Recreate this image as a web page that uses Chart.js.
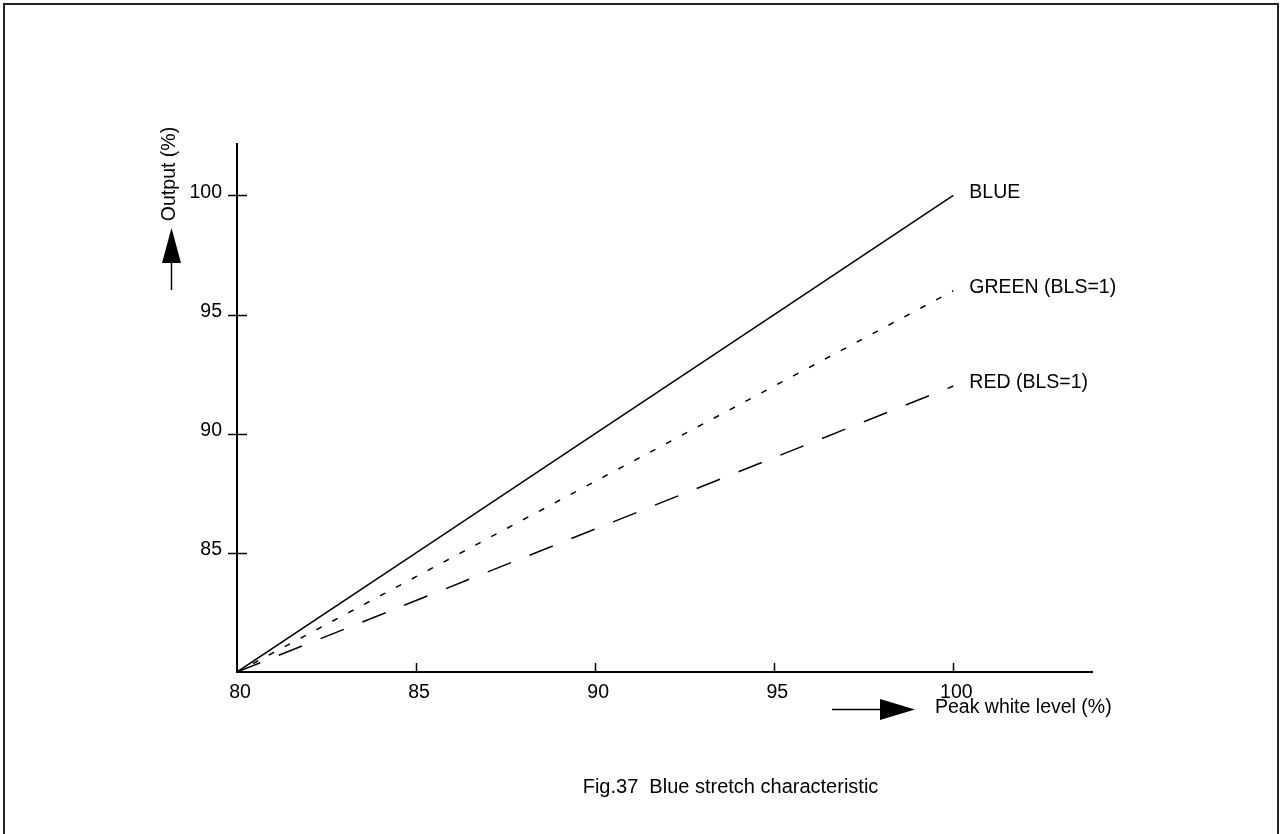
<!DOCTYPE html>
<html>
<head>
<meta charset="utf-8">
<script src="https://cdn.jsdelivr.net/npm/chart.js@4/dist/chart.umd.min.js"></script>
<style>
    html, body { margin: 0; padding: 0; background: #fff; }
    canvas { display: block; }
</style>
</head>
<body>
<canvas id="main_chart" width="1281" height="834"></canvas>
<script>
// peak white level (%)
const peak_white = [80, 85, 90, 95, 100];
// output (%)
const blue_out = [80, 85, 90, 95, 100];
const green_out = [80, 84, 88, 92, 96];
const red_out = [80, 83, 86, 89, 92];
const series_names = ['BLUE', 'GREEN (BLS=1)', 'RED (BLS=1)'];
const x_ticks = [80, 85, 90, 95, 100];
const y_ticks = [85, 90, 95, 100];
const y_title = 'Output (%)';
const x_title = 'Peak white level (%)';
const caption = 'Fig.37  Blue stretch characteristic';

const FONT = '"Liberation Sans", Arial, sans-serif';
const FS = 19.5;

function points(ys) {
    return peak_white.map((x, i) => ({x: x, y: ys[i]}));
}

const extras = {
    id: 'extras',
    afterDraw(chart) {
        const ctx = chart.ctx;
        const xs = chart.scales.x, ys = chart.scales.y;
        const area = chart.chartArea;
        ctx.save();
        ctx.strokeStyle = '#000';
        ctx.fillStyle = '#000';
        ctx.setLineDash([]);

        // axes
        ctx.lineWidth = 2;
        ctx.beginPath();
        ctx.moveTo(area.left, area.top);
        ctx.lineTo(area.left, area.bottom);
        ctx.lineTo(area.right, area.bottom);
        ctx.stroke();

        // tick marks
        ctx.lineWidth = 1.5;
        y_ticks.forEach(v => {
            const py = Math.round(ys.getPixelForValue(v)) + 0.5;
            ctx.beginPath();
            ctx.moveTo(area.left - 9, py);
            ctx.lineTo(area.left + 10, py);
            ctx.stroke();
        });
        x_ticks.slice(1).forEach(v => {
            const px = Math.round(xs.getPixelForValue(v)) + 0.5;
            ctx.beginPath();
            ctx.moveTo(px, area.bottom);
            ctx.lineTo(px, area.bottom - 9);
            ctx.stroke();
        });

        // labels at the line ends
        ctx.font = FS + 'px ' + FONT;
        ctx.textAlign = 'left';
        ctx.textBaseline = 'middle';
        chart.data.datasets.forEach((ds, i) => {
            const last = ds.data[ds.data.length - 1];
            ctx.fillText(series_names[i], xs.getPixelForValue(last.x) + 16, ys.getPixelForValue(last.y) - 3);
        });

        // y axis title with arrow
        ctx.save();
        ctx.translate(170, 174);
        ctx.rotate(-Math.PI / 2);
        ctx.textAlign = 'center';
        ctx.fillText(y_title, 0, 0);
        ctx.restore();
        ctx.lineWidth = 1.5;
        ctx.beginPath();
        ctx.moveTo(171.5, 290);
        ctx.lineTo(171.5, 262);
        ctx.stroke();
        ctx.beginPath();
        ctx.moveTo(171.5, 228);
        ctx.lineTo(181, 263);
        ctx.lineTo(162, 263);
        ctx.closePath();
        ctx.fill();

        // x axis title with arrow
        ctx.beginPath();
        ctx.moveTo(832, 709.5);
        ctx.lineTo(881, 709.5);
        ctx.stroke();
        ctx.beginPath();
        ctx.moveTo(915, 709.5);
        ctx.lineTo(880, 699);
        ctx.lineTo(880, 720);
        ctx.closePath();
        ctx.fill();
        ctx.textAlign = 'left';
        ctx.fillText(x_title, 935, 708);

        // caption
        ctx.font = '20px ' + FONT;
        ctx.textAlign = 'center';
        ctx.fillText(caption, 730.5, 787);

        // frame
        ctx.strokeStyle = '#222';
        ctx.lineWidth = 2;
        ctx.beginPath();
        ctx.moveTo(4, 840);
        ctx.lineTo(4, 4);
        ctx.lineTo(1278, 4);
        ctx.lineTo(1278, 840);
        ctx.stroke();
        ctx.restore();
    }
};

new Chart(document.getElementById('main_chart'), {
    type: 'line',
    data: {
        datasets: [
            {
                label: series_names[0],
                data: points(blue_out),
                borderColor: '#000',
                borderWidth: 1.5,
                pointRadius: 0,
                tension: 0
            }, {
                label: series_names[1],
                data: points(green_out),
                borderColor: '#000',
                borderWidth: 1.5,
                borderDash: [6, 12],
                pointRadius: 0,
                tension: 0
            }, {
                label: series_names[2],
                data: points(red_out),
                borderColor: '#000',
                borderWidth: 1.5,
                borderDash: [25, 20],
                pointRadius: 0,
                tension: 0
            }
        ]
    },
    options: {
        responsive: false,
        animation: false,
        devicePixelRatio: 1,
        layout: {
            padding: {left: 0, top: 143, right: 188, bottom: 0}
        },
        scales: {
            x: {
                type: 'linear',
                min: 80,
                max: 103.9,
                afterFit: (scale) => { scale.height = 162; },
                afterBuildTicks: (scale) => { scale.ticks = x_ticks.map(v => ({value: v})); },
                grid: {display: false},
                border: {display: false},
                ticks: {
                    color: '#000',
                    padding: 1,
                    labelOffset: 3,
                    maxRotation: 0,
                    autoSkip: false,
                    font: {family: FONT, size: FS}
                }
            },
            y: {
                type: 'linear',
                min: 80,
                max: 102.2,
                afterFit: (scale) => { scale.width = 237; },
                afterBuildTicks: (scale) => { scale.ticks = y_ticks.map(v => ({value: v})); },
                grid: {display: false},
                border: {display: false},
                ticks: {
                    color: '#000',
                    padding: 7,
                    labelOffset: -3,
                    autoSkip: false,
                    font: {family: FONT, size: FS}
                }
            }
        },
        plugins: {
            legend: {display: false},
            tooltip: {enabled: false}
        }
    },
    plugins: [extras]
});
</script>
</body>
</html>
